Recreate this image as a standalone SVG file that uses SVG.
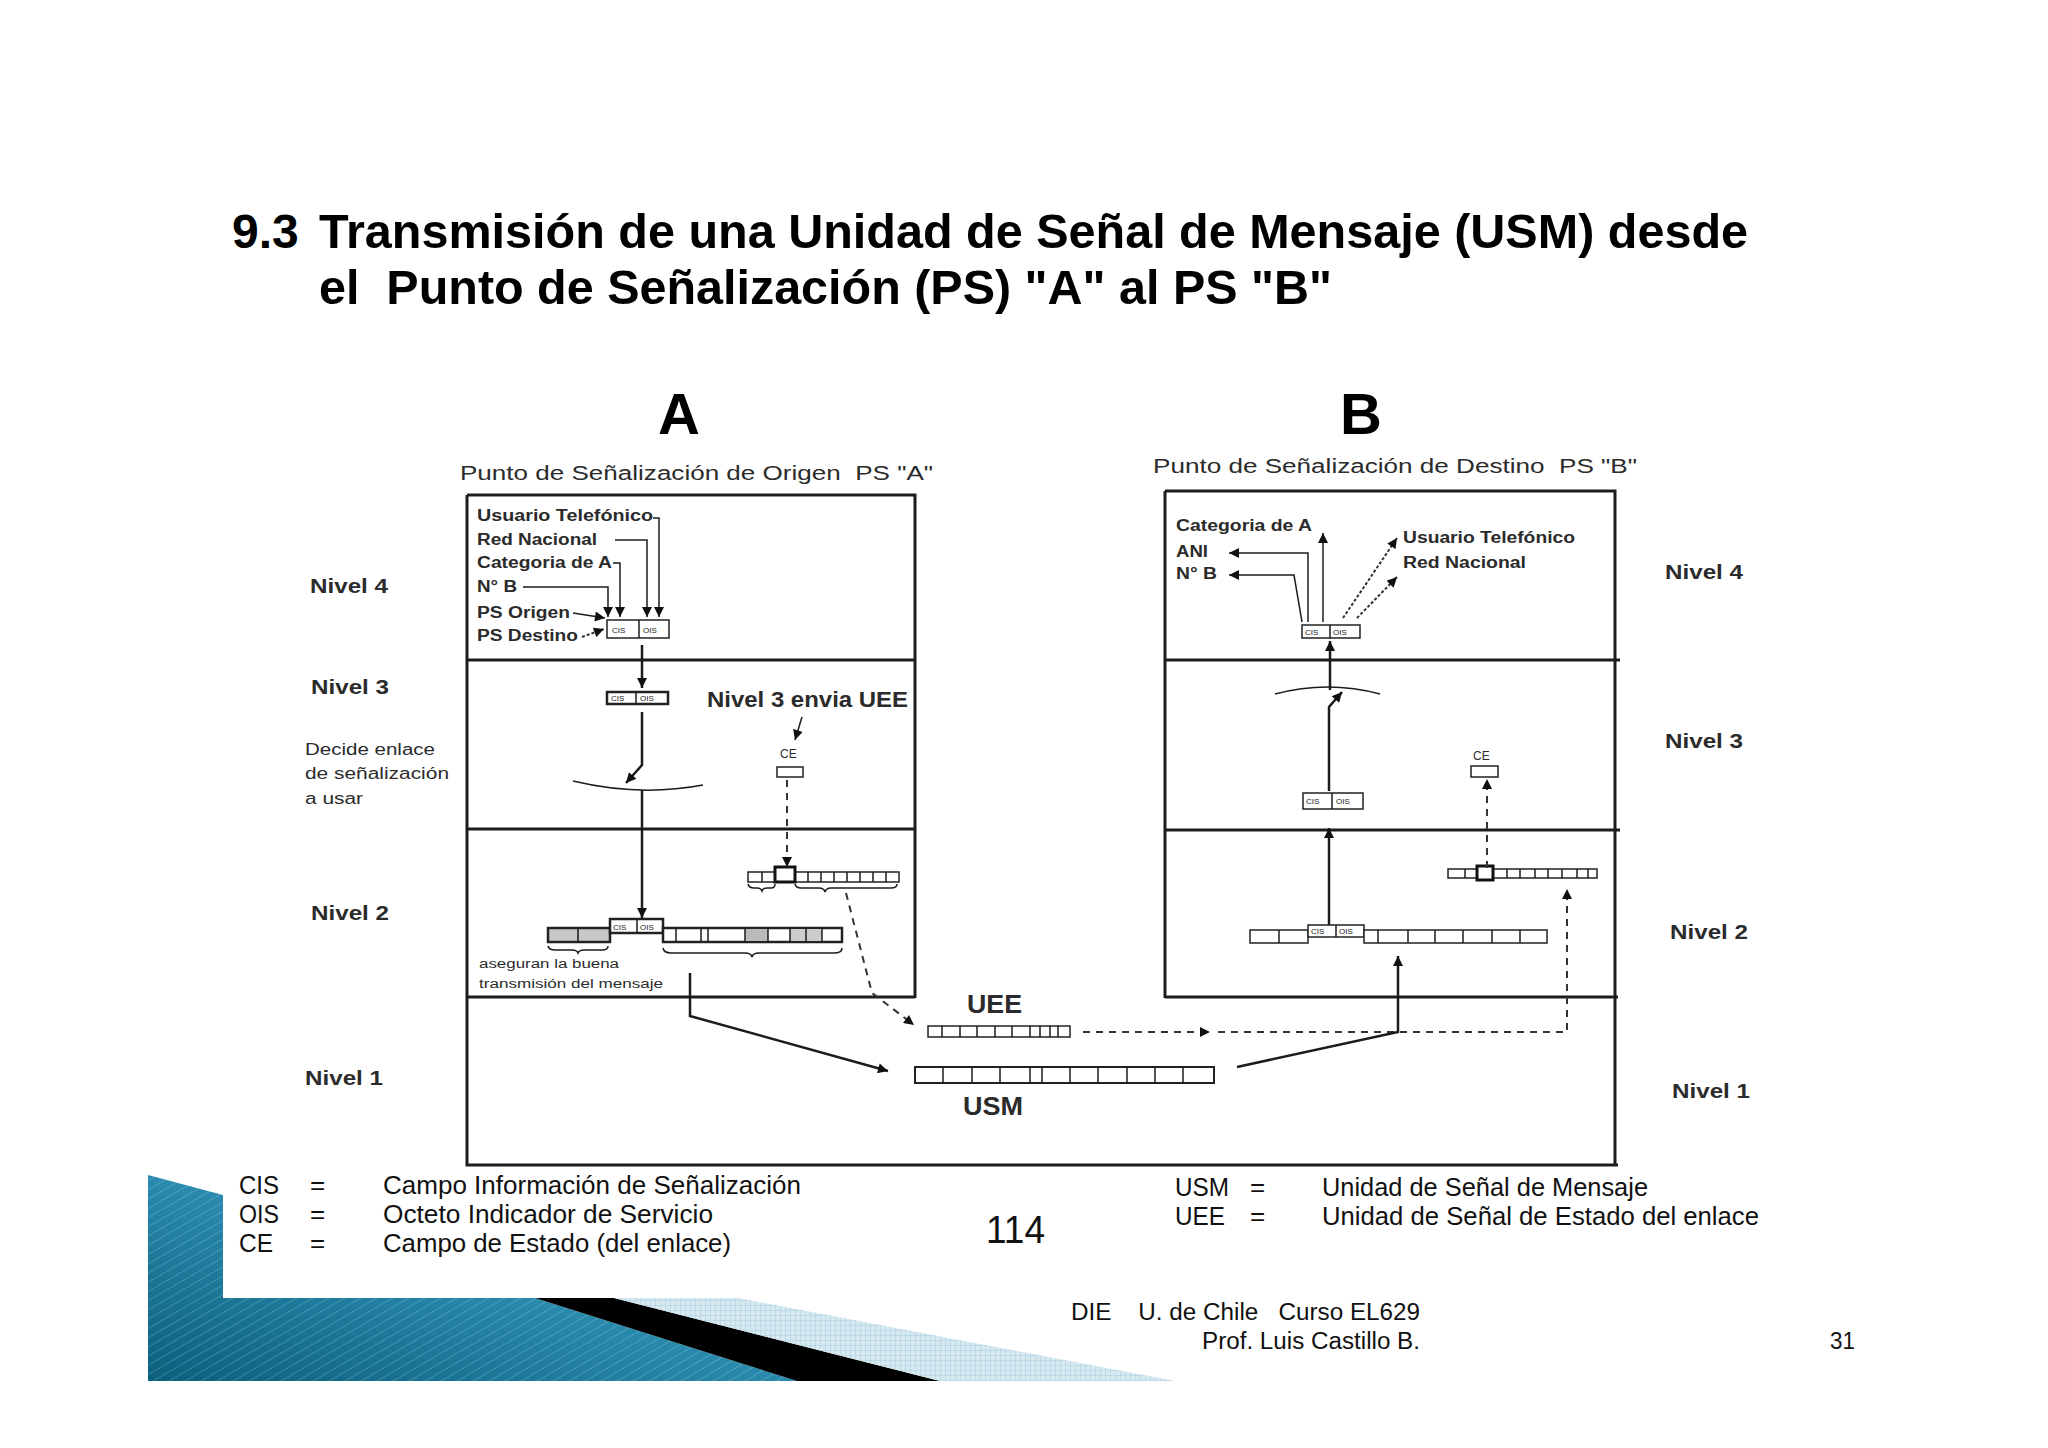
<svg xmlns="http://www.w3.org/2000/svg" width="2048" height="1448" viewBox="0 0 2048 1448">
<style>
.t{font-family:"Liberation Sans",Arial,sans-serif;fill:#2b2b2b}
.b{font-weight:bold}
.ttl{font-family:"Liberation Sans",Arial,sans-serif;font-weight:bold;fill:#000;font-size:48px}
.fr{fill:none;stroke:#1c1c1c;stroke-width:3}
.ln{fill:none;stroke:#1c1c1c;stroke-width:2.5}
.th{fill:none;stroke:#1c1c1c;stroke-width:1.5}
.ds{fill:none;stroke:#333;stroke-width:2;stroke-dasharray:7,6}
.dt{fill:none;stroke:#333;stroke-width:2;stroke-dasharray:3,2}
.cell{fill:#fff;stroke:#222;stroke-width:1.5}
.cellb{fill:#fff;stroke:#111;stroke-width:3}
.tiny{font-family:"Liberation Sans",Arial,sans-serif;font-size:8px;fill:#222}
.lg{font-family:"Liberation Sans",Arial,sans-serif;fill:#111;font-size:26px}
</style>
<defs>
<marker id="ah" viewBox="0 0 10 10" refX="10" refY="5" markerWidth="11" markerHeight="10" markerUnits="userSpaceOnUse" orient="auto"><path d="M0,0 L10,5 L0,10 z" fill="#111"/></marker>
<linearGradient id="blue" x1="0" y1="1" x2="1" y2="0">
<stop offset="0" stop-color="#0b5f7c"/>
<stop offset="0.6" stop-color="#2f93b8"/>
<stop offset="1" stop-color="#5cc0df"/>
</linearGradient>
<pattern id="hatch" width="8" height="8" patternUnits="userSpaceOnUse" patternTransform="rotate(60)">
<line x1="0" y1="0" x2="0" y2="8" stroke="#ffffff" stroke-opacity="0.18" stroke-width="2"/>
</pattern>
<pattern id="grid" width="5" height="5" patternUnits="userSpaceOnUse">
<rect width="5" height="5" fill="#d6e8f0"/>
<path d="M0,0 H5 M0,0 V5" stroke="#a9cfdf" stroke-width="1"/>
</pattern>
</defs>
<rect width="2048" height="1448" fill="#fff"/>

<g id="decoration">
<polygon points="148,1175 223,1195 223,1298 535,1298 797,1381 148,1381" fill="url(#blue)"/>
<polygon points="148,1175 223,1195 223,1298 535,1298 797,1381 148,1381" fill="url(#hatch)"/>
<polygon points="535,1298 614,1298 940,1381 797,1381" fill="#000"/>
<polygon points="614,1298 738,1298 1175,1381 940,1381" fill="url(#grid)"/>
</g>

<g id="title">
<text class="ttl" x="232" y="248">9.3</text>
<text class="ttl" x="319" y="248" textLength="1429" lengthAdjust="spacingAndGlyphs">Transmisión de una Unidad de Señal de Mensaje (USM) desde</text>
<text class="ttl" x="319" y="304" textLength="1013" lengthAdjust="spacingAndGlyphs" xml:space="preserve">el  Punto de Señalización (PS) "A" al PS "B"</text>
<text class="ttl" x="679" y="434" text-anchor="middle" style="font-size:58px">A</text>
<text class="ttl" x="1361" y="434" text-anchor="middle" style="font-size:58px">B</text>
</g>

<g id="frame">
<path class="fr" d="M467,495 H915 V998 M467,495 V1165 H1618 M467,660 H915 M467,829 H915 M467,997 H915"/>
<path class="fr" d="M1165,491 H1615 V1165 M1165,491 V998 M1165,660 H1620 M1165,830 H1620 M1165,997 H1618"/>
</g>

<g id="headers">
<text class="t" x="460" y="480" font-size="20" textLength="473" lengthAdjust="spacingAndGlyphs" xml:space="preserve">Punto de Señalización de Origen  PS "A"</text>
<text class="t" x="1153" y="473" font-size="20" textLength="484" lengthAdjust="spacingAndGlyphs" xml:space="preserve">Punto de Señalización de Destino  PS "B"</text>
</g>

<g id="levels-left">
<text class="t b" x="310" y="593" font-size="21" textLength="78" lengthAdjust="spacingAndGlyphs">Nivel 4</text>
<text class="t b" x="311" y="694" font-size="21" textLength="78" lengthAdjust="spacingAndGlyphs">Nivel 3</text>
<text class="t" x="305" y="755" font-size="16" textLength="130" lengthAdjust="spacingAndGlyphs">Decide enlace</text>
<text class="t" x="305" y="779" font-size="16" textLength="144" lengthAdjust="spacingAndGlyphs">de señalización</text>
<text class="t" x="305" y="804" font-size="16" textLength="58" lengthAdjust="spacingAndGlyphs">a usar</text>
<text class="t b" x="311" y="920" font-size="21" textLength="78" lengthAdjust="spacingAndGlyphs">Nivel 2</text>
<text class="t b" x="305" y="1085" font-size="21" textLength="78" lengthAdjust="spacingAndGlyphs">Nivel 1</text>
</g>

<g id="levels-right">
<text class="t b" x="1665" y="579" font-size="21" textLength="78" lengthAdjust="spacingAndGlyphs">Nivel 4</text>
<text class="t b" x="1665" y="748" font-size="21" textLength="78" lengthAdjust="spacingAndGlyphs">Nivel 3</text>
<text class="t b" x="1670" y="939" font-size="21" textLength="78" lengthAdjust="spacingAndGlyphs">Nivel 2</text>
<text class="t b" x="1672" y="1098" font-size="21" textLength="78" lengthAdjust="spacingAndGlyphs">Nivel 1</text>
</g>

<g id="a-nivel4">
<text class="t b" x="477" y="521" font-size="16" textLength="176" lengthAdjust="spacingAndGlyphs">Usuario Telefónico</text>
<text class="t b" x="477" y="545" font-size="16" textLength="120" lengthAdjust="spacingAndGlyphs">Red Nacional</text>
<text class="t b" x="477" y="568" font-size="16" textLength="135" lengthAdjust="spacingAndGlyphs">Categoria de A</text>
<text class="t b" x="477" y="592" font-size="16" textLength="40" lengthAdjust="spacingAndGlyphs">N° B</text>
<text class="t b" x="477" y="618" font-size="16" textLength="93" lengthAdjust="spacingAndGlyphs">PS Origen</text>
<text class="t b" x="477" y="641" font-size="16" textLength="101" lengthAdjust="spacingAndGlyphs">PS Destino</text>
<rect class="cell" x="607" y="620" width="62" height="18"/>
<line class="th" x1="639" y1="620" x2="639" y2="638"/>
<text class="tiny" x="612" y="633">CIS</text>
<text class="tiny" x="643" y="633">OIS</text>
</g>

<g id="a-nivel3">
<rect class="cell" x="607" y="692" width="61" height="12" style="stroke-width:2.5"/>
<line class="th" x1="636" y1="692" x2="636" y2="704"/>
<text class="tiny" x="611" y="701">CIS</text>
<text class="tiny" x="640" y="701">OIS</text>
<text class="t b" x="707" y="707" font-size="22" textLength="201" lengthAdjust="spacingAndGlyphs">Nivel 3 envia UEE</text>
<text class="t" x="780" y="758" font-size="12">CE</text>
<rect class="cell" x="777" y="767" width="26" height="10"/>
<path class="th" d="M573,781 Q640,797 703,785"/>
</g>

<g id="a-nivel2">
<rect class="cell" x="748" y="872" width="27" height="10"/>
<line class="th" x1="762" y1="872" x2="762" y2="882"/>
<rect class="cell" x="795" y="872" width="104" height="10"/>
<path class="th" d="M808,872V882M821,872V882M834,872V882M847,872V882M860,872V882M873,872V882M886,872V882"/>
<rect class="cellb" x="775" y="867" width="20" height="15"/>
<path class="th" d="M748,884 Q749,888 754,888 L757,888 Q761,888 762,891 Q763,888 767,888 L771,888 Q775,888 775,884"/>
<path class="th" d="M795,884 Q796,888 801,888 L819,888 Q824,888 825,892 Q826,888 831,888 L891,888 Q897,888 897,884"/>
<rect class="cell" x="548" y="928" width="62" height="14" style="fill:#c8c8c8;stroke-width:2.5"/>
<line class="th" x1="578" y1="928" x2="578" y2="942"/>
<rect class="cell" x="610" y="919" width="53" height="14" style="stroke-width:2.5"/>
<line class="th" x1="637" y1="919" x2="637" y2="933"/>
<text class="tiny" x="613" y="930">CIS</text>
<text class="tiny" x="640" y="930">OIS</text>
<rect class="cell" x="663" y="928" width="179" height="14" style="stroke-width:2.5"/>
<rect x="745" y="929" width="23" height="12" fill="#bbb"/>
<rect x="790" y="929" width="32" height="12" fill="#ccc"/>
<path class="th" d="M676,928V942M701,928V942M708,928V942M745,928V942M768,928V942M790,928V942M806,928V942M822,928V942"/>
<path class="th" d="M548,946 Q549,950 555,950 L572,950 Q577,950 578,953 Q579,950 584,950 L602,950 Q608,950 608,946"/>
<path class="th" d="M663,948 Q664,953 671,953 L745,953 Q751,953 752,957 Q753,953 759,953 L834,953 Q842,953 842,948"/>
<text class="t" x="479" y="968" font-size="12" textLength="140" lengthAdjust="spacingAndGlyphs">aseguran la buena</text>
<text class="t" x="479" y="988" font-size="12" textLength="184" lengthAdjust="spacingAndGlyphs">transmisión del mensaje</text>
</g>

<g id="nivel1">
<text class="t b" x="967" y="1013" font-size="25" textLength="55" lengthAdjust="spacingAndGlyphs">UEE</text>
<rect class="cell" x="928" y="1026" width="142" height="11"/>
<path class="th" d="M942,1026V1037M960,1026V1037M977,1026V1037M995,1026V1037M1012,1026V1037M1030,1026V1037M1040,1026V1037M1050,1026V1037M1058,1026V1037"/>
<rect class="cell" x="915" y="1067" width="299" height="16" style="stroke-width:2"/>
<path class="th" d="M943,1067V1083M972,1067V1083M1000,1067V1083M1030,1067V1083M1042,1067V1083M1070,1067V1083M1098,1067V1083M1127,1067V1083M1155,1067V1083M1183,1067V1083"/>
<text class="t b" x="963" y="1115" font-size="25" textLength="60" lengthAdjust="spacingAndGlyphs">USM</text>
</g>

<g id="b-nivel4">
<text class="t b" x="1176" y="531" font-size="16" textLength="136" lengthAdjust="spacingAndGlyphs">Categoria de A</text>
<text class="t b" x="1176" y="557" font-size="16" textLength="32" lengthAdjust="spacingAndGlyphs">ANI</text>
<text class="t b" x="1176" y="579" font-size="16" textLength="41" lengthAdjust="spacingAndGlyphs">N° B</text>
<text class="t b" x="1403" y="543" font-size="16" textLength="172" lengthAdjust="spacingAndGlyphs">Usuario Telefónico</text>
<text class="t b" x="1403" y="568" font-size="16" textLength="123" lengthAdjust="spacingAndGlyphs">Red Nacional</text>
<rect class="cell" x="1302" y="625" width="58" height="13"/>
<line class="th" x1="1330" y1="625" x2="1330" y2="638"/>
<text class="tiny" x="1305" y="635">CIS</text>
<text class="tiny" x="1333" y="635">OIS</text>
</g>

<g id="b-nivel3">
<path class="th" d="M1275,694 Q1328,680 1380,694"/>
<rect class="cell" x="1303" y="793" width="60" height="16"/>
<line class="th" x1="1332" y1="793" x2="1332" y2="809"/>
<text class="tiny" x="1306" y="804">CIS</text>
<text class="tiny" x="1336" y="804">OIS</text>
<text class="t" x="1473" y="760" font-size="12">CE</text>
<rect class="cell" x="1471" y="766" width="27" height="11"/>
</g>

<g id="b-nivel2">
<rect class="cell" x="1448" y="869" width="29" height="9"/>
<line class="th" x1="1465" y1="869" x2="1465" y2="878"/>
<rect class="cell" x="1493" y="869" width="104" height="9"/>
<path class="th" d="M1507,869V878M1520,869V878M1535,869V878M1548,869V878M1562,869V878M1577,869V878M1588,869V878"/>
<rect class="cellb" x="1477" y="866" width="16" height="14"/>
<rect class="cell" x="1250" y="930" width="58" height="13"/>
<line class="th" x1="1279" y1="930" x2="1279" y2="943"/>
<rect class="cell" x="1308" y="925" width="56" height="12"/>
<line class="th" x1="1336" y1="925" x2="1336" y2="937"/>
<text class="tiny" x="1311" y="934">CIS</text>
<text class="tiny" x="1339" y="934">OIS</text>
<rect class="cell" x="1364" y="930" width="183" height="13"/>
<path class="th" d="M1378,930V943M1408,930V943M1435,930V943M1463,930V943M1492,930V943M1520,930V943"/>
</g>

<g id="connectors">
<path class="th" d="M653,518 H659 V617" marker-end="url(#ah)"/>
<path class="th" d="M615,540 H647 V617" marker-end="url(#ah)"/>
<path class="th" d="M613,563 H620 V617" marker-end="url(#ah)"/>
<path class="th" d="M523,587 H608 V617" marker-end="url(#ah)"/>
<path class="th" d="M573,613 L605,618" marker-end="url(#ah)"/>
<path class="dt" d="M582,637 L604,629" marker-end="url(#ah)"/>
<path class="ln" d="M642,645 V688" marker-end="url(#ah)"/>
<path class="ln" d="M642,712 V765 L626,783" marker-end="url(#ah)"/>
<path class="ln" d="M642,790 V918" marker-end="url(#ah)"/>
<path class="th" d="M802,717 L795,740" marker-end="url(#ah)"/>
<path class="ds" d="M787,780 V867" marker-end="url(#ah)"/>
<path class="ds" d="M846,893 L872,993 L914,1025" marker-end="url(#ah)"/>
<path class="ln" d="M690,973 V1016 L888,1071" marker-end="url(#ah)"/>
<path class="ds" d="M1083,1032 H1210" marker-end="url(#ah)"/>
<path class="ds" d="M1218,1032 H1567 V889" marker-end="url(#ah)"/>
<path class="ln" d="M1237,1067 L1398,1032 V956" marker-end="url(#ah)"/>
<path class="ln" d="M1329,925 V828" marker-end="url(#ah)"/>
<path class="ln" d="M1329,791 V707 L1342,692" marker-end="url(#ah)"/>
<path class="ln" d="M1330,690 V641" marker-end="url(#ah)"/>
<path class="ds" d="M1487,868 V779" marker-end="url(#ah)"/>
<path class="th" d="M1302,622 L1294,575 H1229" marker-end="url(#ah)"/>
<path class="th" d="M1308,622 V553 H1229" marker-end="url(#ah)"/>
<path class="th" d="M1323,622 V533" marker-end="url(#ah)"/>
<path class="dt" d="M1343,618 L1397,538" marker-end="url(#ah)"/>
<path class="dt" d="M1357,618 L1397,577" marker-end="url(#ah)"/>
</g>

<g id="legend">
<text class="lg" x="239" y="1194" textLength="40" lengthAdjust="spacingAndGlyphs">CIS</text>
<text class="lg" x="310" y="1194">=</text>
<text class="lg" x="383" y="1194" textLength="418" lengthAdjust="spacingAndGlyphs">Campo Información de Señalización</text>
<text class="lg" x="239" y="1223" textLength="40" lengthAdjust="spacingAndGlyphs">OIS</text>
<text class="lg" x="310" y="1223">=</text>
<text class="lg" x="383" y="1223" textLength="330" lengthAdjust="spacingAndGlyphs">Octeto Indicador de Servicio</text>
<text class="lg" x="239" y="1252" textLength="34" lengthAdjust="spacingAndGlyphs">CE</text>
<text class="lg" x="310" y="1252">=</text>
<text class="lg" x="383" y="1252" textLength="348" lengthAdjust="spacingAndGlyphs">Campo de Estado (del enlace)</text>
<text class="lg" x="986" y="1243" style="font-size:38px" textLength="59" lengthAdjust="spacingAndGlyphs">114</text>
<text class="lg" x="1175" y="1196" textLength="54" lengthAdjust="spacingAndGlyphs">USM</text>
<text class="lg" x="1250" y="1196">=</text>
<text class="lg" x="1322" y="1196" textLength="326" lengthAdjust="spacingAndGlyphs">Unidad de Señal de Mensaje</text>
<text class="lg" x="1175" y="1225" textLength="50" lengthAdjust="spacingAndGlyphs">UEE</text>
<text class="lg" x="1250" y="1225">=</text>
<text class="lg" x="1322" y="1225" textLength="437" lengthAdjust="spacingAndGlyphs">Unidad de Señal de Estado del enlace</text>
</g>

<g id="footer">
<text class="lg" x="1071" y="1320" style="font-size:23px" textLength="349" lengthAdjust="spacingAndGlyphs" xml:space="preserve">DIE    U. de Chile   Curso EL629</text>
<text class="lg" x="1202" y="1349" style="font-size:23px" textLength="218" lengthAdjust="spacingAndGlyphs">Prof. Luis Castillo B.</text>
<text class="lg" x="1830" y="1349" style="font-size:23px" textLength="25" lengthAdjust="spacingAndGlyphs">31</text>
</g>
</svg>
